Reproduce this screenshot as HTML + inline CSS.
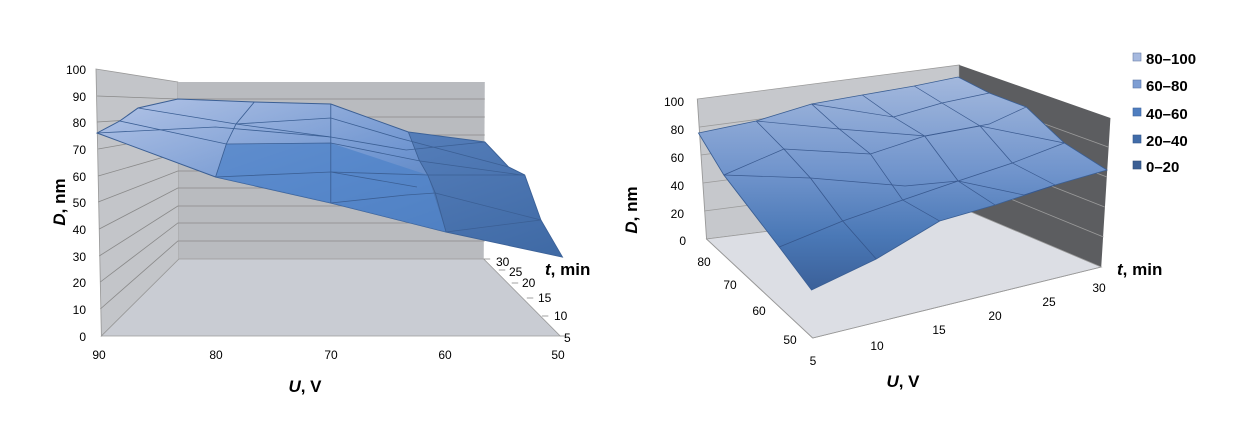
<!DOCTYPE html>
<html><head><meta charset="utf-8"><style>
body{margin:0;background:#fff}
svg{display:block;font-family:"Liberation Sans",Arial,sans-serif}
.t{font-size:12px;fill:#000}
.b{font-size:17px;font-weight:bold;fill:#000}
.lg{font-size:15px;font-weight:bold;fill:#000}
</style></head><body>
<svg width="1246" height="435" viewBox="0 0 1246 435">
<defs>
<linearGradient id="g1" x1="0" y1="0" x2="1" y2="1">
<stop offset="0" stop-color="#b3c4e6"/><stop offset="0.5" stop-color="#6f95d0"/><stop offset="1" stop-color="#3f68a2"/>
</linearGradient>
<linearGradient id="g2" x1="0" y1="0" x2="0" y2="1">
<stop offset="0" stop-color="#a3b8dd"/><stop offset="0.45" stop-color="#7094cc"/><stop offset="0.75" stop-color="#4a78b6"/><stop offset="1" stop-color="#3b6099"/>
</linearGradient>
</defs>
<!-- LEFT CHART -->
<g transform="translate(40,0) scale(1.077,1) translate(-40,0)">
<polygon points="92,69 168,82 169,259 97,336" fill="#c3c5c9" stroke="#9a9a9a" stroke-width="0.8"/>
<polygon points="168,82 453,82 452,259 169,259" fill="#b9bbbf"/>
<polygon points="97,336 523,336 452,259 169,259" fill="#c9ccd3" stroke="#9a9a9a" stroke-width="0.8"/>
<g stroke="#8a8a8a" stroke-width="0.8" fill="none">
<polyline points="93,96 168,99 453,99"/><polyline points="93,122 168,117 453,117"/><polyline points="94,149 168,135 453,135"/>
<polyline points="94,176 168,153 453,153"/><polyline points="94,202 168,171 453,171"/><polyline points="95,229 168,188 453,188"/>
<polyline points="95,256 168,206 453,206"/><polyline points="96,282 168,223 453,223"/><polyline points="96,309 168,241 453,241"/>
<line x1="452" y1="259" x2="458" y2="259"/><line x1="466" y1="270" x2="472" y2="270"/><line x1="478" y1="283" x2="484" y2="283"/>
<line x1="492" y1="298" x2="498" y2="298"/><line x1="506" y1="316" x2="512" y2="316"/><line x1="523" y1="336" x2="529" y2="336"/>
</g>
<polygon points="93,133 114,121 131,108 168,99 239,102 310,104 382,132 453,142 475,167 490,175 505,220 525,257 417,232 310,203 203,177" fill="url(#g1)" stroke="#3b5f94" stroke-width="1"/>
<polygon points="203,177 213,144 310,143 400,175 417,232 310,203" fill="#4f83c8" opacity="0.75"/>
<polygon points="382,132 453,142 475,167 490,175 505,220 525,257 417,232 400,175 392,160" fill="#3f6aa6" opacity="0.6"/>
<g stroke="#3b5f94" stroke-width="0.8" fill="none">
<polyline points="203,177 213,144 222,124 239,102"/><line x1="310" y1="203" x2="310" y2="104"/>
<polyline points="417,232 407,193 400,175 392,160 382,132"/>
<polyline points="114,121 213,144 310,143 393,161 487,175"/>
<polyline points="131,108 222,124 310,118 373,138 475,167"/>
<polyline points="93,133 203,127 310,137 380,150 453,142"/>
<polyline points="203,177 310,172 400,175 490,175"/>
<polyline points="310,203 380,195 407,193 505,220"/>
<polyline points="417,232 505,220"/>
<line x1="222" y1="124" x2="310" y2="137"/><line x1="310" y1="172" x2="390" y2="187"/>
</g>
</g>
<g class="t" text-anchor="end">
<text x="86" y="74">100</text><text x="86" y="101">90</text><text x="86" y="127">80</text><text x="86" y="154">70</text>
<text x="86" y="181">60</text><text x="86" y="207">50</text><text x="86" y="234">40</text><text x="86" y="261">30</text>
<text x="86" y="287">20</text><text x="86" y="314">10</text><text x="86" y="341">0</text>
</g>
<g class="t" text-anchor="middle">
<text x="99" y="359">90</text><text x="216" y="359">80</text><text x="331" y="359">70</text><text x="445" y="359">60</text><text x="558" y="359">50</text>
</g>
<g class="t"><text x="496" y="266">30</text><text x="509" y="276">25</text><text x="522" y="287">20</text><text x="538" y="302">15</text><text x="554" y="320">10</text><text x="564" y="342">5</text></g>
<text x="545" y="275" class="b"><tspan font-style="italic">t</tspan>, min</text>
<text x="305" y="392" class="b" text-anchor="middle"><tspan font-style="italic">U</tspan>, V</text>
<text transform="translate(65,202) rotate(-90)" class="b" text-anchor="middle"><tspan font-style="italic">D</tspan>, nm</text>
<!-- RIGHT CHART -->
<g transform="translate(620,0) scale(1.154,1) translate(-620,0)">
<polygon points="687,99 914,65 914,207 695,239" fill="#c6c8cc" stroke="#9a9a9a" stroke-width="0.8"/>
<polygon points="914,65 1045,118 1037,267 914,207" fill="#5c5d60"/>
<polygon points="695,239 914,207 1037,267 787,338" fill="#dcdee4" stroke="#9a9a9a" stroke-width="0.8"/>
<g stroke="#9a9a9a" stroke-width="0.8" fill="none">
<polyline points="689,127 914,93 1043,147"/><polyline points="690,155 914,121 1042,177"/>
<polyline points="692,183 914,150 1040,207"/><polyline points="693,211 914,178 1039,237"/>
<line x1="695" y1="239" x2="787" y2="338"/><line x1="787" y1="338" x2="1037" y2="267"/>
</g>
<polygon points="688,133 738,121 786,104 830,95 875,86 913,77 940,93 972,107 1005,143 1042,170 997,185 945,205 897,221 842,259 786,290 758,247 710,175" fill="url(#g2)" stroke="#3b5f94" stroke-width="0.8"/>
<g stroke="#34548a" stroke-width="0.7" fill="none" opacity="0.9">
<polyline points="738,121 762,149 785,178 813,221 842,259"/>
<polyline points="786,104 810,129 837,154 865,200 897,221"/>
<polyline points="830,95 857,117 884,136 913,181 945,205"/>
<polyline points="875,86 899,103 932,126 960,163 997,185"/>
<polyline points="710,175 785,178 867,186 913,181 970,195 997,185"/>
<polyline points="738,121 810,129 885,136 932,126 1005,143"/>
<polyline points="758,247 813,221 865,200 913,181 960,163 1005,143"/>
<polyline points="710,175 762,149 837,154 884,136 940,124 972,107"/>
<polyline points="786,104 857,117 899,103 940,93"/>
</g>
</g>
<g class="t" text-anchor="end">
<text x="684" y="106">100</text><text x="684" y="134">80</text><text x="684" y="162">60</text>
<text x="684" y="190">40</text><text x="684" y="218">20</text><text x="686" y="245">0</text>
</g>
<g class="t" text-anchor="middle">
<text x="704" y="266">80</text><text x="730" y="289">70</text><text x="759" y="315">60</text><text x="790" y="344">50</text>
<text x="813" y="365">5</text><text x="877" y="350">10</text><text x="939" y="334">15</text><text x="995" y="320">20</text><text x="1049" y="306">25</text><text x="1099" y="292">30</text>
</g>
<text x="1117" y="275" class="b"><tspan font-style="italic">t</tspan>, min</text>
<text x="903" y="387" class="b" text-anchor="middle"><tspan font-style="italic">U</tspan>, V</text>
<text transform="translate(637,210) rotate(-90)" class="b" text-anchor="middle"><tspan font-style="italic">D</tspan>, nm</text>
<g>
<rect x="1133" y="53" width="8" height="8" fill="#a6b9df" stroke="#6a7fa8" stroke-width="0.6"/><text x="1146" y="64" class="lg">80–100</text>
<rect x="1133" y="80" width="8" height="8" fill="#7e9ed3" stroke="#5d78a8" stroke-width="0.6"/><text x="1146" y="91" class="lg">60–80</text>
<rect x="1133" y="108" width="8" height="8" fill="#4f7ec0" stroke="#3e649c" stroke-width="0.6"/><text x="1146" y="119" class="lg">40–60</text>
<rect x="1133" y="135" width="8" height="8" fill="#416ca9" stroke="#35588c" stroke-width="0.6"/><text x="1146" y="146" class="lg">20–40</text>
<rect x="1133" y="161" width="8" height="8" fill="#3b5f94" stroke="#2f4d7a" stroke-width="0.6"/><text x="1146" y="172" class="lg">0–20</text>
</g>
</svg>
</body></html>
